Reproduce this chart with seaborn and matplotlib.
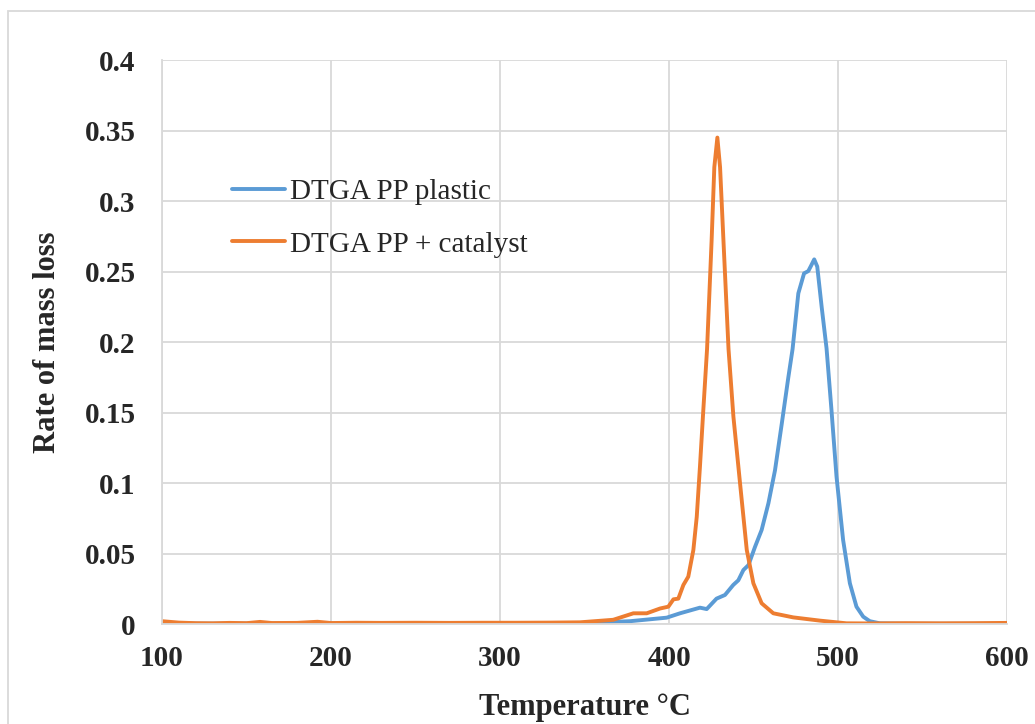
import matplotlib
matplotlib.use("Agg")
import matplotlib.pyplot as plt
import seaborn as sns
import pandas as pd
from matplotlib.patches import Rectangle

# ---- data ----
temp_pp = [100, 105, 120, 140, 160, 180, 200, 220, 240, 260, 280, 300, 320, 347,
           377, 398.6, 406.5, 418.3, 422.3, 428.1, 433.1, 438, 441, 444, 447,
           450.9, 454.8, 458.8, 462.7, 466.7, 470.6, 473.1, 476.5, 479.9, 482.4,
           484, 485.9, 487.7, 490.3, 493.2, 496.1, 499.1, 503, 507, 510.9, 514.9,
           518.8, 524.7, 540, 560, 580, 600]
rate_pp = [0.001, 0.0006, 0.0003, 0.0003, 0.0004, 0.0003, 0.0004, 0.0003, 0.0003,
           0.0004, 0.0003, 0.0004, 0.0004, 0.0005,
           0.002, 0.0045, 0.0076, 0.0116, 0.0106, 0.018, 0.0206, 0.0277, 0.031,
           0.0383, 0.0418, 0.0548, 0.0667, 0.0856, 0.109, 0.142, 0.175, 0.195,
           0.2345, 0.2487, 0.2503, 0.254, 0.2586, 0.2535, 0.225, 0.1955, 0.152,
           0.1045, 0.0596, 0.0289, 0.0123, 0.0052, 0.002, 0.0005, 0.0002, 0.0002,
           0.0002, 0.0002]

temp_cat = [100, 105, 110, 120, 130, 140, 150, 158, 165, 180, 192, 200, 215, 230,
            250, 270, 290, 310, 330, 347.3, 367, 378.9, 386.8, 394.7, 399.6,
            402.6, 405.5, 408.5, 411.4, 414.4, 416.4, 418.3, 420.3, 422.5, 425.2,
            426.8, 428.6, 430.2, 432.2, 435.2, 438.1, 442, 446, 449.9, 454.8,
            461.7, 473.5, 489.3, 505, 520, 540, 560, 580, 600]
rate_cat = [0.002, 0.0015, 0.001, 0.0006, 0.0005, 0.0008, 0.0006, 0.0015, 0.0007,
            0.0008, 0.0016, 0.0007, 0.0009, 0.0008, 0.0009, 0.0008, 0.0009,
            0.0009, 0.001, 0.0012, 0.003, 0.0076, 0.0076, 0.011, 0.0123, 0.0175,
            0.018, 0.0277, 0.0336, 0.0525, 0.076, 0.1116, 0.152, 0.195, 0.272,
            0.324, 0.345, 0.324, 0.272, 0.195, 0.147, 0.1, 0.0525, 0.0289, 0.0147,
            0.0076, 0.0047, 0.0024, 0.0005, 0.0004, 0.0006, 0.0005, 0.0006, 0.0008]

labels = ["DTGA PP plastic", "DTGA PP + catalyst"]
colors = ["#5B9BD5", "#ED7D31"]
x_ticks = [100, 200, 300, 400, 500, 600]
y_ticks = [0, 0.05, 0.1, 0.15, 0.2, 0.25, 0.3, 0.35, 0.4]
y_ticklabels = ["0", "0.05", "0.1", "0.15", "0.2", "0.25", "0.3", "0.35", "0.4"]

sns.set_theme(style="white")
plt.rcParams["font.family"] = ["Liberation Serif", "DejaVu Serif"]

fig = plt.figure(figsize=(10.35, 7.24), dpi=100)
ax = fig.add_axes([0.1565, 0.1381, 0.8165, 0.7790])

sns.lineplot(x=temp_pp, y=rate_pp, ax=ax, color=colors[0], linewidth=2.8,
             label=labels[0])
sns.lineplot(x=temp_cat, y=rate_cat, ax=ax, color=colors[1], linewidth=2.8,
             label=labels[1])

ax.set_xlim(100, 600)
ax.set_ylim(0, 0.4)
ax.set_xticks(x_ticks)
ax.set_yticks(y_ticks)
ax.set_yticklabels(y_ticklabels)
ax.grid(True, color="#D9D9D9", linewidth=1.3)
ax.set_axisbelow(True)
for s in ["top", "right"]:
    ax.spines[s].set_visible(False)
for s in ["left", "bottom"]:
    ax.spines[s].set_color("#D9D9D9")
    ax.spines[s].set_linewidth(1.3)
ax.tick_params(axis="x", length=0, labelsize=21, pad=15)
ax.tick_params(axis="y", length=0, labelsize=21, pad=19)
for t in ax.get_xticklabels() + ax.get_yticklabels():
    t.set_fontweight("bold")
ax.set_xlabel("Temperature °C", fontsize=22, fontweight="bold", labelpad=15)
ax.set_ylabel("Rate of mass loss", fontsize=22, fontweight="bold", labelpad=16)

leg = ax.legend(loc="upper left", bbox_to_anchor=(0.083, 0.79), frameon=False,
                fontsize=21, handlelength=1.8, handletextpad=0.2,
                labelspacing=0.9, borderpad=0, borderaxespad=0)

fig.patches.append(Rectangle((8 / 1035, -0.05), 1.2, 1 - 11 / 724 + 0.05,
                             transform=fig.transFigure, fill=False,
                             edgecolor="#D9D9D9", linewidth=1.3))

fig.savefig("out.png", dpi=100, facecolor="white")
